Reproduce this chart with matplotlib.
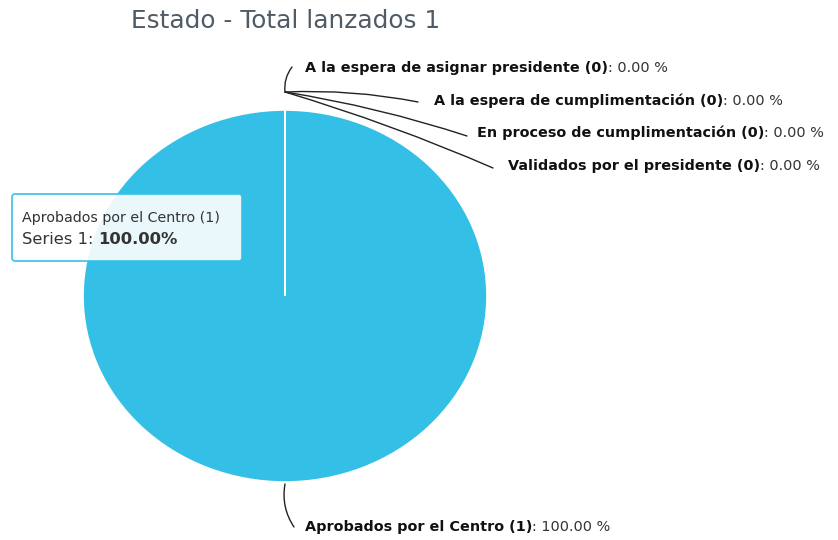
import matplotlib
matplotlib.use("Agg")
import matplotlib.pyplot as plt
from matplotlib.patches import FancyBboxPatch

title = "Estado - Total lanzados 1"
categories = ["A la espera de asignar presidente",
              "A la espera de cumplimentación",
              "En proceso de cumplimentación",
              "Validados por el presidente",
              "Aprobados por el Centro"]
counts = [0, 0, 0, 0, 1]
percents = [0.0, 0.0, 0.0, 0.0, 100.0]

W, H = 838, 540
CYAN = "#34c0e6"

fig = plt.figure(figsize=(W / 100, H / 100), dpi=100)

# pie: centre (285, 296), radii 202 x 186 px
cx, cy, rx, ry = 285, 296, 202, 186
ax = fig.add_axes([(cx - rx) / W, 1 - (cy + ry) / H, 2 * rx / W, 2 * ry / H])
wedges, _ = ax.pie(counts, startangle=90, counterclock=False,
                   colors=[CYAN] * len(counts),
                   wedgeprops=dict(edgecolor="white", linewidth=1.2))
for w, c in zip(wedges, counts):
    if c == 0:
        w.set_zorder(3)   # make the empty slices' edge visible
ax.set_aspect("auto")
ax.set_xlim(-1, 1)
ax.set_ylim(-1, 1)
ax.axis("off")

# overlay in pixel coords for title, labels and tooltip
ov = fig.add_axes([0, 0, 1, 1], zorder=5)
ov.set_xlim(0, W)
ov.set_ylim(H, 0)
ov.axis("off")
ov.patch.set_alpha(0)

ov.text(131, 21, title, fontsize=17.8, color="#4f5b66", va="center", ha="left")

label_xy = [(305, 68), (434, 101), (477, 133), (508, 166), (305, 527)]
line_end = [(292, 67), (418, 102), (467, 136), (493, 168), (294, 527)]
rads = [-0.2, -0.06, -0.04, -0.03, 0.2]

for i, name in enumerate(categories):
    start = (285, 92) if counts[i] == 0 else (285, 484)
    ov.annotate("", xy=line_end[i], xytext=start,
                arrowprops=dict(arrowstyle="-", color="#222222", lw=1.0,
                                shrinkA=0, shrinkB=0,
                                connectionstyle="arc3,rad=%s" % rads[i]))
    lx, ly = label_xy[i]
    t = ov.text(lx, ly, "%s (%d)" % (name, counts[i]), fontsize=10.4,
                fontweight="bold", color="#111111", va="center", ha="left")
    ov.annotate(": %.2f %%" % percents[i], xy=(1, 0.5), xycoords=t,
                va="center", ha="left", fontsize=10.4, color="#333333")

# tooltip
box = FancyBboxPatch((12, 194), 230, 67,
                     boxstyle="round,pad=0,rounding_size=3",
                     facecolor="white", alpha=0.9,
                     edgecolor=CYAN, linewidth=1.3)
ov.add_patch(box)
ov.text(22, 218, "%s (%d)" % (categories[4], counts[4]), fontsize=10.3,
        color="#333333", va="center", ha="left")
s1 = ov.text(22, 240, "Series 1: ", fontsize=11.8, color="#333333",
             va="center", ha="left")
ov.annotate("%.2f%%" % percents[4], xy=(1, 0.5), xycoords=s1, va="center",
            ha="left", fontsize=11.8, fontweight="bold", color="#333333")

fig.savefig("out.png", dpi=100)
